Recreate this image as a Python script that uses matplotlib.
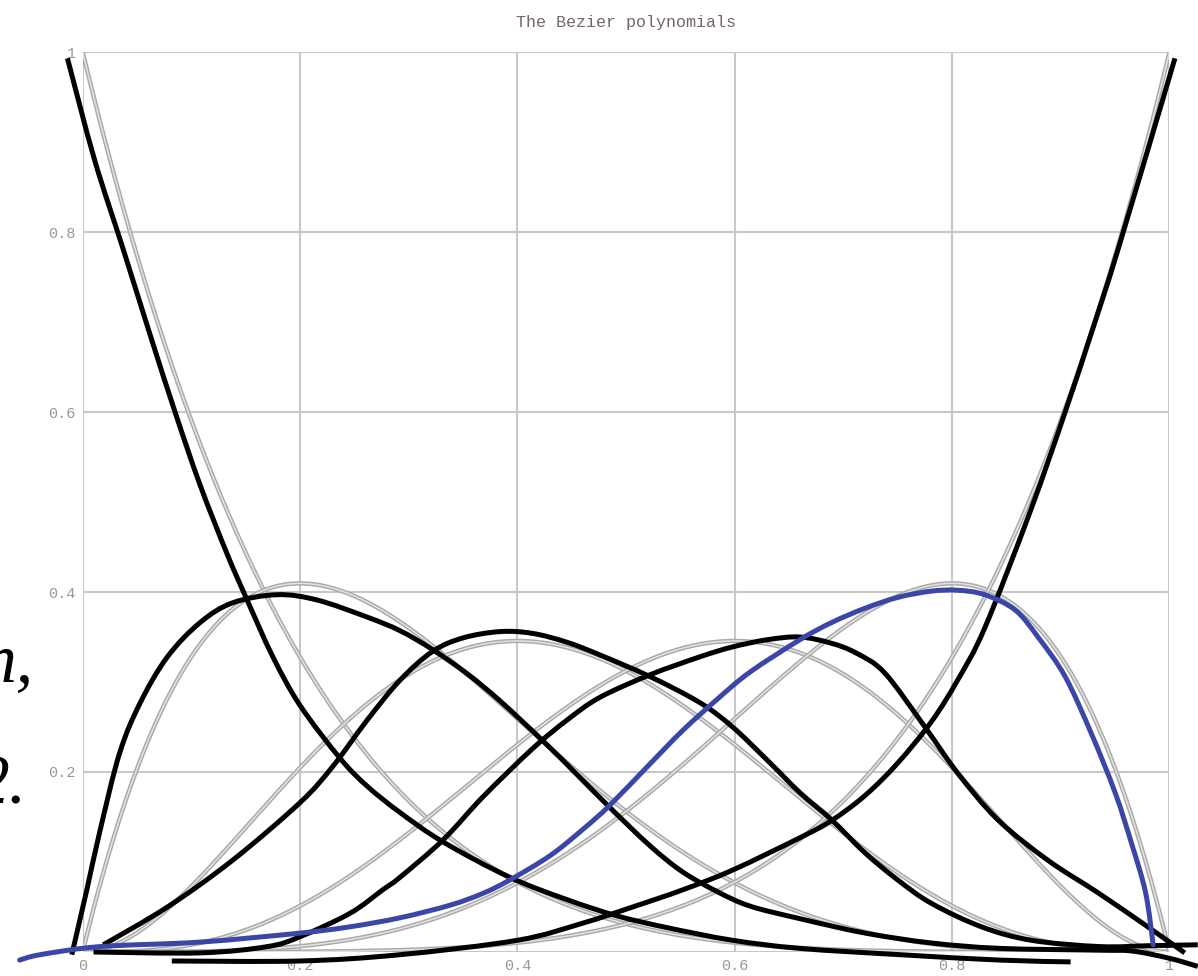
import numpy as np
import matplotlib.pyplot as plt
from matplotlib.path import Path
from matplotlib.patches import PathPatch
from math import comb

# tick positions and labels
ticks = [0, 0.2, 0.4, 0.6, 0.8, 1]
tick_labels = ["0", "0.2", "0.4", "0.6", "0.8", "1"]

# degree of the Bezier (Bernstein) basis
degree = 5

# hand traced basis curves, drawn over the exact ones
b0_x = [-0.014, 0.011, 0.037, 0.062, 0.085, 0.108, 0.133, 0.151, 0.175, 0.200,
        0.237, 0.262, 0.292, 0.332, 0.393, 0.446, 0.492, 0.538, 0.598, 0.660,
        0.752, 0.844, 0.909]
b0_y = [0.993, 0.880, 0.782, 0.686, 0.600, 0.519, 0.442, 0.392, 0.328, 0.274,
        0.215, 0.184, 0.155, 0.122, 0.083, 0.058, 0.040, 0.027, 0.013, 0.004,
        -0.003, -0.009, -0.011]

b1_x = [-0.010, 0.004, 0.016, 0.034, 0.053, 0.078, 0.108, 0.138, 0.179, 0.216,
        0.262, 0.292, 0.322, 0.354, 0.384, 0.424, 0.455, 0.483, 0.522, 0.552,
        0.584, 0.614, 0.660, 0.720, 0.781, 0.844, 0.936, 0.966, 1.000, 1.026]
b1_y = [-0.003, 0.070, 0.135, 0.221, 0.277, 0.328, 0.366, 0.388, 0.397, 0.391,
        0.372, 0.357, 0.336, 0.309, 0.279, 0.234, 0.197, 0.163, 0.118, 0.089,
        0.067, 0.051, 0.037, 0.021, 0.010, 0.004, 0.002, 0.001, -0.007, -0.016]

b2_x = [0.019, 0.078, 0.138, 0.200, 0.230, 0.262, 0.292, 0.322, 0.350, 0.384,
        0.414, 0.446, 0.476, 0.522, 0.568, 0.598, 0.630, 0.660, 0.689, 0.720,
        0.750, 0.781, 0.827, 0.873, 0.936, 0.982, 1.026]
b2_y = [0.008, 0.050, 0.102, 0.166, 0.206, 0.258, 0.302, 0.334, 0.349, 0.356,
        0.354, 0.344, 0.330, 0.306, 0.277, 0.250, 0.213, 0.177, 0.147, 0.110,
        0.080, 0.054, 0.028, 0.013, 0.006, 0.007, 0.008]

b3_x = [0.010, 0.108, 0.170, 0.200, 0.246, 0.276, 0.292, 0.332, 0.368, 0.414,
        0.446, 0.476, 0.522, 0.568, 0.598, 0.630, 0.660, 0.689, 0.712, 0.738,
        0.775, 0.805, 0.842, 0.888, 0.934, 0.980, 1.014]
b3_y = [0.000, -0.001, 0.006, 0.017, 0.043, 0.069, 0.083, 0.125, 0.172, 0.226,
        0.258, 0.283, 0.308, 0.328, 0.339, 0.347, 0.350, 0.343, 0.332, 0.310,
        0.250, 0.199, 0.147, 0.102, 0.066, 0.028, -0.001]

b4_x = [-0.058, -0.039, 0.016, 0.108, 0.200, 0.246, 0.292, 0.338, 0.368, 0.393,
        0.430, 0.460, 0.485, 0.522, 0.552, 0.584, 0.614, 0.660, 0.689, 0.720,
        0.750, 0.781, 0.805, 0.830, 0.858, 0.879, 0.904, 0.928, 0.950, 0.965,
        0.978, 0.985]
b4_y = [-0.009, -0.003, 0.006, 0.011, 0.021, 0.028, 0.038, 0.052, 0.065, 0.080,
        0.107, 0.136, 0.163, 0.209, 0.246, 0.281, 0.311, 0.347, 0.366, 0.382,
        0.394, 0.401, 0.402, 0.397, 0.380, 0.350, 0.306, 0.243, 0.177, 0.121,
        0.066, 0.008]

b5_x = [0.082, 0.200, 0.292, 0.400, 0.460, 0.506, 0.552, 0.598, 0.660, 0.689,
        0.720, 0.750, 0.781, 0.805, 0.830, 0.872, 0.904, 0.929, 0.953, 1.005]
b5_y = [-0.010, -0.010, -0.003, 0.013, 0.032, 0.050, 0.069, 0.091, 0.127, 0.146,
        0.174, 0.210, 0.256, 0.302, 0.360, 0.490, 0.600, 0.691, 0.782, 0.993]

black_curves = [(b0_x, b0_y), (b1_x, b1_y), (b2_x, b2_y),
                (b3_x, b3_y), (b5_x, b5_y)]


def smooth_path(xs, ys):
    # Catmull-Rom through the traced points, as cubic Bezier segments
    p = np.column_stack([xs, ys])
    p = np.vstack([p[0], p, p[-1]])
    verts = [p[1]]
    codes = [Path.MOVETO]
    for i in range(1, len(p) - 2):
        c1 = p[i] + (p[i + 1] - p[i - 1]) / 6
        c2 = p[i + 1] - (p[i + 2] - p[i]) / 6
        verts += [c1, c2, p[i + 1]]
        codes += [Path.CURVE4] * 3
    return Path(verts, codes)


def draw_hand(ax, xs, ys, color, z, cap="butt"):
    patch = PathPatch(smooth_path(xs, ys), fill=False, edgecolor=color,
                      lw=3.6, zorder=z, clip_on=False, capstyle=cap,
                      joinstyle="round")
    ax.add_patch(patch)


fig = plt.figure(figsize=(11.98, 9.76), dpi=100)
ax = fig.add_axes([0.069, 0.0246, 0.9072, 0.9221])
ax.set_xlim(0, 1)
ax.set_ylim(0, 1)
for s in ax.spines.values():
    s.set_visible(False)

ax.set_xticks(ticks, tick_labels)
ax.set_yticks(ticks, ["", "0.2", "0.4", "0.6", "0.8", "1"])
ax.tick_params(length=0, pad=5, labelsize=11, labelcolor="#a09494")
for lbl in ax.get_xticklabels() + ax.get_yticklabels():
    lbl.set_fontfamily("Liberation Mono")
ax.grid(True, color="#c8c8c8", lw=1.5)
ax.set_axisbelow(True)

ax.set_title("The Bezier polynomials", fontfamily="Liberation Mono",
             fontsize=12, color="#7a6464", pad=18)

# exact basis functions in soft gray
t = np.linspace(0, 1, 400)
for i in range(degree + 1):
    b = comb(degree, i) * t**i * (1 - t)**(degree - i)
    ax.plot(t, b, color="#aaaaaa", lw=3.2, zorder=2, solid_capstyle="round")
    ax.plot(t, b, color="#e2e2e2", lw=1.1, zorder=2)

# hand drawn versions on top
for xs, ys in black_curves:
    draw_hand(ax, xs, ys, "black", 4)
draw_hand(ax, b4_x, b4_y, "#3c46a8", 5, cap="round")

# fragments of slide text at the left edge
fig.text(34 / 1198, 1 - 681 / 976, "n,", fontfamily="Liberation Serif",
         style="italic", fontsize=50, ha="right", va="baseline")
fig.text(27 / 1198, 1 - 803 / 976, "2.", fontfamily="Liberation Serif",
         style="italic", fontsize=50, ha="right", va="baseline")

fig.savefig("out.png", dpi=100, facecolor="white")
